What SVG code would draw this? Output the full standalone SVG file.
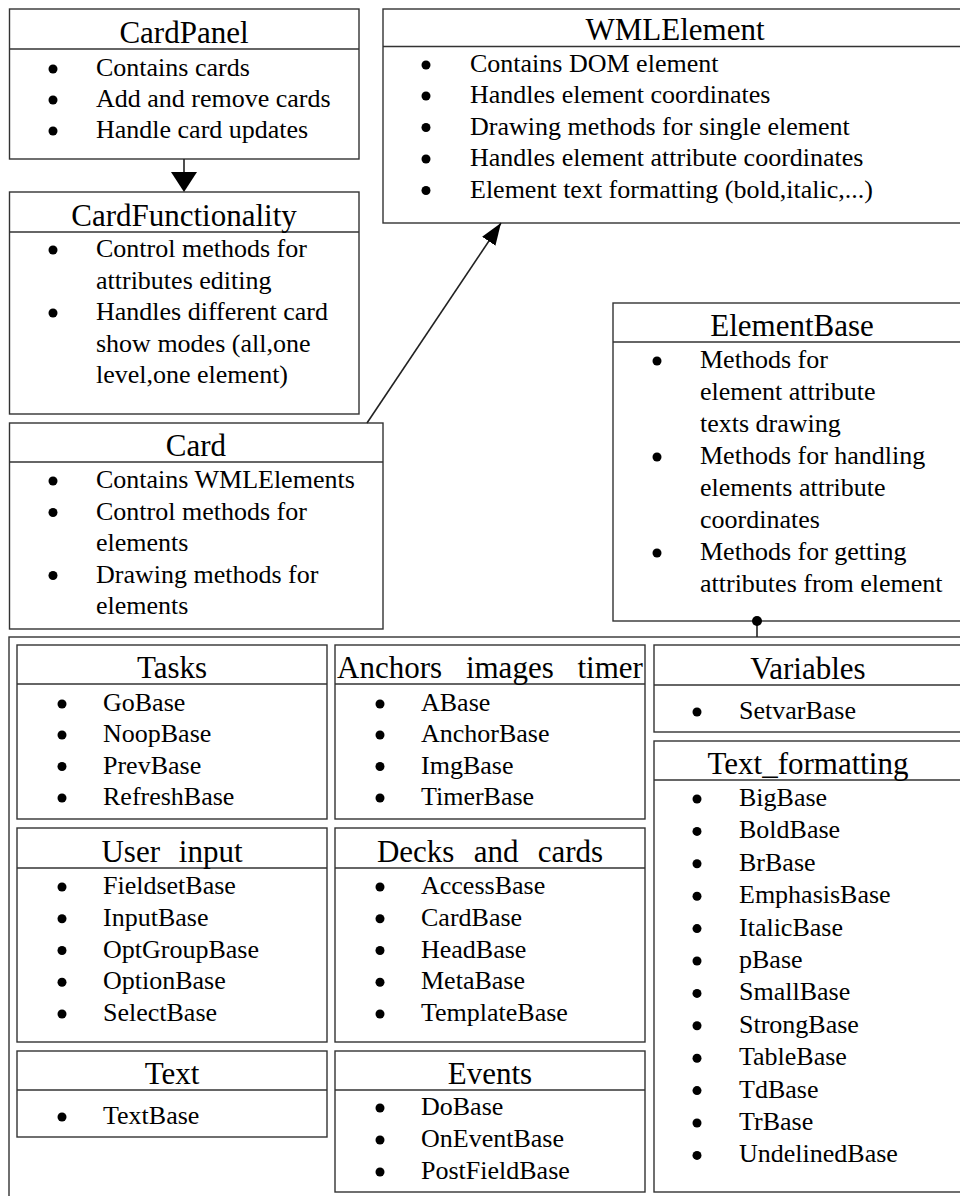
<svg xmlns="http://www.w3.org/2000/svg" width="960" height="1196" viewBox="0 0 960 1196">
<style>
.box{fill:#fff;stroke:#333;stroke-width:1.4}
.hdr{stroke:#333;stroke-width:1.4}
.t{font-family:"Liberation Serif","Times New Roman",serif;font-size:31px;text-anchor:middle;fill:#000}
.b{font-family:"Liberation Serif","Times New Roman",serif;font-size:26px;fill:#000}
.d{fill:#000}
.con{stroke:#222;stroke-width:1.6;fill:none}
</style>
<defs>
<marker id="ah" markerUnits="userSpaceOnUse" markerWidth="24" markerHeight="18" refX="22" refY="8" orient="auto">
<path d="M0,0 L22,8 L0,16 z" fill="#000"/>
</marker>
</defs>
<rect width="960" height="1196" fill="#fff"/>

<g id="container">
<rect class="box" x="9" y="637" width="1000" height="600"/>
</g>

<g id="CardPanel">
<rect class="box" x="9.5" y="9" width="349.5" height="150"/>
<line class="hdr" x1="9.5" y1="49" x2="359" y2="49"/>
<text class="t" x="184" y="43">CardPanel</text>
<circle class="d" cx="53" cy="69" r="4.5"/><text class="b" x="96" y="76">Contains cards</text>
<circle class="d" cx="53" cy="100" r="4.5"/><text class="b" x="96" y="107">Add and remove cards</text>
<circle class="d" cx="53" cy="131" r="4.5"/><text class="b" x="96" y="138">Handle card updates</text>
</g>

<g id="CardFunctionality">
<rect class="box" x="9.5" y="192" width="349.5" height="222"/>
<line class="hdr" x1="9.5" y1="232" x2="359" y2="232"/>
<text class="t" x="184" y="226">CardFunctionality</text>
<circle class="d" cx="53" cy="250" r="4.5"/><text class="b" x="96" y="257">Control methods for</text>
<text class="b" x="96" y="288.5">attributes editing</text>
<circle class="d" cx="53" cy="313" r="4.5"/><text class="b" x="96" y="320">Handles different card</text>
<text class="b" x="96" y="351.5">show modes (all,one</text>
<text class="b" x="96" y="383">level,one element)</text>
</g>

<g id="Card">
<rect class="box" x="9.5" y="423" width="373.5" height="206"/>
<line class="hdr" x1="9.5" y1="462" x2="383" y2="462"/>
<text class="t" x="196" y="456">Card</text>
<circle class="d" cx="53" cy="481" r="4.5"/><text class="b" x="96" y="488">Contains WMLElements</text>
<circle class="d" cx="53" cy="512.5" r="4.5"/><text class="b" x="96" y="519.5">Control methods for</text>
<text class="b" x="96" y="551">elements</text>
<circle class="d" cx="53" cy="575.5" r="4.5"/><text class="b" x="96" y="582.5">Drawing methods for</text>
<text class="b" x="96" y="614">elements</text>
</g>

<g id="WMLElement">
<rect class="box" x="383" y="9" width="620" height="214"/>
<line class="hdr" x1="383" y1="46.5" x2="960" y2="46.5"/>
<text class="t" x="675" y="40">WMLElement</text>
<circle class="d" cx="426" cy="65" r="4.5"/><text class="b" x="470" y="72">Contains DOM element</text>
<circle class="d" cx="426" cy="96" r="4.5"/><text class="b" x="470" y="103">Handles element coordinates</text>
<circle class="d" cx="426" cy="127.5" r="4.5"/><text class="b" x="470" y="134.5">Drawing methods for single element</text>
<circle class="d" cx="426" cy="159" r="4.5"/><text class="b" x="470" y="166">Handles element attribute coordinates</text>
<circle class="d" cx="426" cy="190.5" r="4.5"/><text class="b" x="470" y="197.5">Element text formatting (bold,italic,...)</text>
</g>

<g id="ElementBase">
<rect class="box" x="613" y="303" width="400" height="318"/>
<line class="hdr" x1="613" y1="342" x2="960" y2="342"/>
<text class="t" x="792" y="336">ElementBase</text>
<circle class="d" cx="657" cy="361" r="4.5"/><text class="b" x="700" y="368">Methods for</text>
<text class="b" x="700" y="400">element attribute</text>
<text class="b" x="700" y="432">texts drawing</text>
<circle class="d" cx="657" cy="457" r="4.5"/><text class="b" x="700" y="464">Methods for handling</text>
<text class="b" x="700" y="496">elements attribute</text>
<text class="b" x="700" y="528">coordinates</text>
<circle class="d" cx="657" cy="553" r="4.5"/><text class="b" x="700" y="560">Methods for getting</text>
<text class="b" x="700" y="592">attributes from element</text>
</g>

<g id="Tasks">
<rect class="box" x="17" y="645" width="310" height="174"/>
<line class="hdr" x1="17" y1="684" x2="327" y2="684"/>
<text class="t" x="172" y="678">Tasks</text>
<circle class="d" cx="62" cy="704" r="4.5"/><text class="b" x="103" y="711">GoBase</text>
<circle class="d" cx="62" cy="735" r="4.5"/><text class="b" x="103" y="742">NoopBase</text>
<circle class="d" cx="62" cy="766.5" r="4.5"/><text class="b" x="103" y="773.5">PrevBase</text>
<circle class="d" cx="62" cy="798" r="4.5"/><text class="b" x="103" y="805">RefreshBase</text>
</g>

<g id="AnchorsImagesTimer">
<rect class="box" x="335" y="645" width="310" height="174"/>
<line class="hdr" x1="335" y1="684" x2="645" y2="684"/>
<text class="t" x="490" y="678" word-spacing="16">Anchors images timer</text>
<circle class="d" cx="380" cy="704" r="4.5"/><text class="b" x="421" y="711">ABase</text>
<circle class="d" cx="380" cy="735" r="4.5"/><text class="b" x="421" y="742">AnchorBase</text>
<circle class="d" cx="380" cy="766.5" r="4.5"/><text class="b" x="421" y="773.5">ImgBase</text>
<circle class="d" cx="380" cy="798" r="4.5"/><text class="b" x="421" y="805">TimerBase</text>
</g>

<g id="Variables">
<rect class="box" x="654" y="645" width="400" height="87"/>
<line class="hdr" x1="654" y1="685" x2="960" y2="685"/>
<text class="t" x="808" y="679">Variables</text>
<circle class="d" cx="697" cy="712" r="4.5"/><text class="b" x="739" y="719">SetvarBase</text>
</g>

<g id="TextFormatting">
<rect class="box" x="654" y="741" width="400" height="451"/>
<line class="hdr" x1="654" y1="780" x2="960" y2="780"/>
<text class="t" x="808" y="774">Text_formatting</text>
<circle class="d" cx="697" cy="799" r="4.5"/><text class="b" x="739" y="806">BigBase</text>
<circle class="d" cx="697" cy="831.4" r="4.5"/><text class="b" x="739" y="838.4">BoldBase</text>
<circle class="d" cx="697" cy="863.8" r="4.5"/><text class="b" x="739" y="870.8">BrBase</text>
<circle class="d" cx="697" cy="896.2" r="4.5"/><text class="b" x="739" y="903.2">EmphasisBase</text>
<circle class="d" cx="697" cy="928.6" r="4.5"/><text class="b" x="739" y="935.6">ItalicBase</text>
<circle class="d" cx="697" cy="961" r="4.5"/><text class="b" x="739" y="968">pBase</text>
<circle class="d" cx="697" cy="993.4" r="4.5"/><text class="b" x="739" y="1000.4">SmallBase</text>
<circle class="d" cx="697" cy="1025.8" r="4.5"/><text class="b" x="739" y="1032.8">StrongBase</text>
<circle class="d" cx="697" cy="1058.2" r="4.5"/><text class="b" x="739" y="1065.2">TableBase</text>
<circle class="d" cx="697" cy="1090.6" r="4.5"/><text class="b" x="739" y="1097.6">TdBase</text>
<circle class="d" cx="697" cy="1123" r="4.5"/><text class="b" x="739" y="1130">TrBase</text>
<circle class="d" cx="697" cy="1155.4" r="4.5"/><text class="b" x="739" y="1162.4">UndelinedBase</text>
</g>

<g id="UserInput">
<rect class="box" x="17" y="828" width="310" height="214"/>
<line class="hdr" x1="17" y1="868" x2="327" y2="868"/>
<text class="t" x="172" y="862" word-spacing="11">User input</text>
<circle class="d" cx="62" cy="887" r="4.5"/><text class="b" x="103" y="894">FieldsetBase</text>
<circle class="d" cx="62" cy="918.8" r="4.5"/><text class="b" x="103" y="925.8">InputBase</text>
<circle class="d" cx="62" cy="950.5" r="4.5"/><text class="b" x="103" y="957.5">OptGroupBase</text>
<circle class="d" cx="62" cy="982.3" r="4.5"/><text class="b" x="103" y="989.3">OptionBase</text>
<circle class="d" cx="62" cy="1014" r="4.5"/><text class="b" x="103" y="1021">SelectBase</text>
</g>

<g id="DecksAndCards">
<rect class="box" x="335" y="828" width="310" height="214"/>
<line class="hdr" x1="335" y1="868" x2="645" y2="868"/>
<text class="t" x="490" y="862" word-spacing="11.5">Decks and cards</text>
<circle class="d" cx="380" cy="887" r="4.5"/><text class="b" x="421" y="894">AccessBase</text>
<circle class="d" cx="380" cy="918.8" r="4.5"/><text class="b" x="421" y="925.8">CardBase</text>
<circle class="d" cx="380" cy="950.5" r="4.5"/><text class="b" x="421" y="957.5">HeadBase</text>
<circle class="d" cx="380" cy="982.3" r="4.5"/><text class="b" x="421" y="989.3">MetaBase</text>
<circle class="d" cx="380" cy="1014" r="4.5"/><text class="b" x="421" y="1021">TemplateBase</text>
</g>

<g id="Text">
<rect class="box" x="17" y="1051" width="310" height="86"/>
<line class="hdr" x1="17" y1="1090" x2="327" y2="1090"/>
<text class="t" x="172" y="1084">Text</text>
<circle class="d" cx="62" cy="1117" r="4.5"/><text class="b" x="103" y="1124">TextBase</text>
</g>

<g id="Events">
<rect class="box" x="335" y="1051" width="310" height="141"/>
<line class="hdr" x1="335" y1="1090" x2="645" y2="1090"/>
<text class="t" x="490" y="1084">Events</text>
<circle class="d" cx="380" cy="1108" r="4.5"/><text class="b" x="421" y="1115">DoBase</text>
<circle class="d" cx="380" cy="1140" r="4.5"/><text class="b" x="421" y="1147">OnEventBase</text>
<circle class="d" cx="380" cy="1172" r="4.5"/><text class="b" x="421" y="1179">PostFieldBase</text>
</g>

<g id="connectors">
<line class="con" x1="184" y1="159" x2="184" y2="173"/>
<polygon points="171,172 197,172 184,192" fill="#000"/>
<line class="con" x1="367" y1="423" x2="501" y2="223" marker-end="url(#ah)"/>
<line class="con" x1="757" y1="621" x2="757" y2="637"/>
<circle cx="757" cy="621" r="5" fill="#000"/>
</g>
</svg>
